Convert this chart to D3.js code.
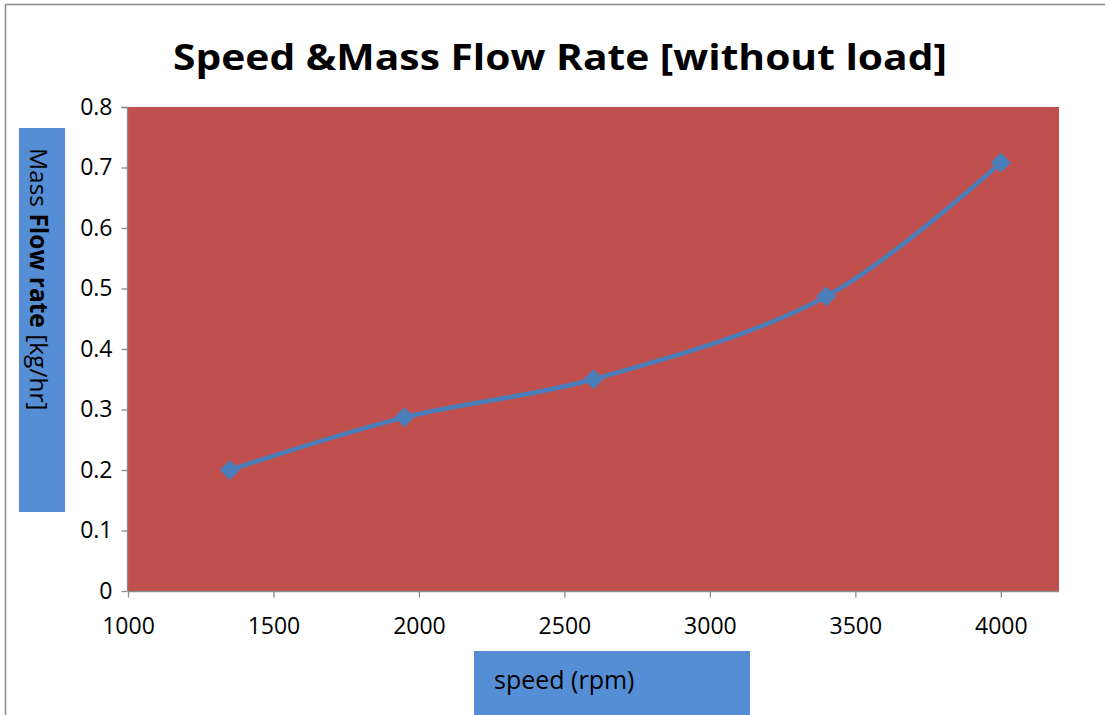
<!DOCTYPE html>
<html>
<head>
<meta charset="utf-8">
<script src="https://cdn.jsdelivr.net/npm/d3@7"></script>
<style>
  html, body { margin: 0; padding: 0; background: #fff; }
  svg { display: block; }
  text { font-family: "Open Sans", "Noto Sans", sans-serif; fill: #000; }
</style>
</head>
<body>
<svg id="chart" width="1105" height="715"></svg>
<script>
// Measured engine speed vs. mass flow rate (no load)
const speeds = [1350, 1950, 2600, 3400, 4000];
const flowRates = [0.2, 0.287, 0.35, 0.487, 0.708];
const xTicks = [1000, 1500, 2000, 2500, 3000, 3500, 4000];
const yTicks = [0, 0.1, 0.2, 0.3, 0.4, 0.5, 0.6, 0.7, 0.8];

const svg = d3.select("#chart");
const plot = { left: 128, right: 1059, top: 107, bottom: 591 };

const x = d3.scaleLinear().domain([1000, 4200]).range([plot.left, plot.right]);
const y = d3.scaleLinear().domain([0, 0.8]).range([plot.bottom, plot.top]);

// outer chart frame
svg.append("path")
  .attr("d", "M5.5,715 V4.5 H1105")
  .attr("fill", "none").attr("stroke", "#8c8c8c").attr("stroke-width", 1.5);

// title
svg.append("text")
  .attr("x", 560).attr("y", 70)
  .attr("text-anchor", "middle")
  .attr("font-size", 36).attr("font-weight", "bold")
  .attr("textLength", 774).attr("lengthAdjust", "spacingAndGlyphs")
  .text("Speed &Mass Flow Rate [without load]");

// plot area
svg.append("rect")
  .attr("x", plot.left).attr("y", plot.top)
  .attr("width", plot.right - plot.left).attr("height", plot.bottom - plot.top)
  .attr("fill", "#c0504d");

// axes
const yAxis = d3.axisLeft(y).tickValues(yTicks).tickSize(6).tickPadding(9)
  .tickFormat(d => d === 0 ? "0" : d3.format(".1f")(d));
const gy = svg.append("g").attr("transform", `translate(${plot.left - 0.5},0)`).call(yAxis);

const xAxis = d3.axisBottom(x).tickValues(xTicks).tickSize(6).tickPadding(20)
  .tickFormat(d3.format("d"));
const gx = svg.append("g").attr("transform", `translate(0,${plot.bottom + 0.5})`).call(xAxis);

[gx, gy].forEach(g => {
  g.select(".domain").attr("stroke", "#8c8c8c").attr("stroke-width", 1.3);
  g.selectAll(".tick line").attr("stroke", "#8c8c8c").attr("stroke-width", 1.3);
  g.selectAll(".tick text").attr("font-size", 23).attr("fill", "#000")
    .style("font-family", "'Open Sans', 'Noto Sans', sans-serif");
});
gy.select(".domain").attr("d", `M-6,${plot.top}.5H0V${plot.bottom}`);
gx.select(".domain").attr("d", `M${plot.left},0H${plot.right}`);

// y axis title box
svg.append("rect").attr("x", 19).attr("y", 128).attr("width", 46).attr("height", 384)
  .attr("fill", "#558ed5");
const yt = svg.append("text")
  .attr("transform", "translate(30,148) rotate(90)")
  .attr("font-size", 24.5);
yt.append("tspan").text("Mass ");
yt.append("tspan").attr("font-weight", "bold").text("Flow rate");
yt.append("tspan").text(" [kg/hr]");

// x axis title box
svg.append("rect").attr("x", 474).attr("y", 651).attr("width", 276).attr("height", 64)
  .attr("fill", "#558ed5");
svg.append("text").attr("x", 494).attr("y", 689).attr("font-size", 25).text("speed (rpm)");

// smoothed series line
const pts = speeds.map((s, i) => [s, flowRates[i]]);
const line = d3.line()
  .x(d => x(d[0])).y(d => y(d[1]))
  .curve(d3.curveCatmullRom.alpha(0.5));
svg.append("path").datum(pts)
  .attr("d", line)
  .attr("fill", "none").attr("stroke", "#4a7ebb").attr("stroke-width", 4.5)
  .attr("stroke-linejoin", "round");

// diamond markers
svg.selectAll(".marker").data(pts).enter().append("path")
  .attr("class", "marker")
  .attr("transform", d => `translate(${x(d[0])},${y(d[1])})`)
  .attr("d", "M0,-9.5L9.5,0L0,9.5L-9.5,0Z")
  .attr("fill", "#4a7ebb").attr("stroke", "#4a7ebb").attr("stroke-width", 1);
</script>
</body>
</html>
